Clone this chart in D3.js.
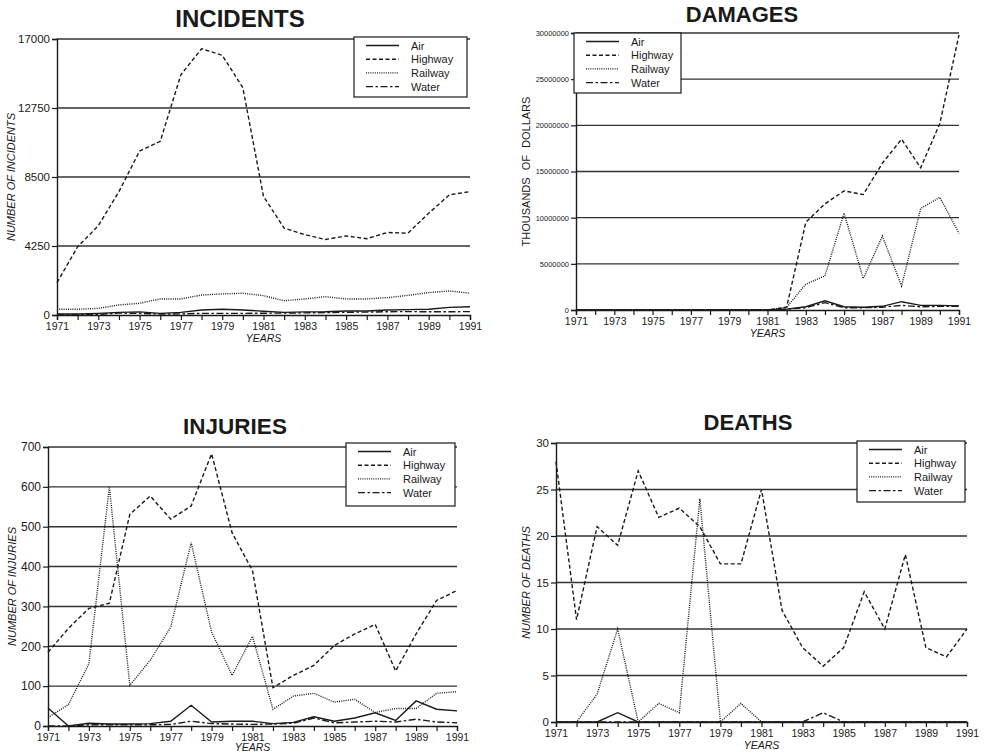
<!DOCTYPE html>
<html>
<head>
<meta charset="utf-8">
<script src="https://cdn.jsdelivr.net/npm/d3@7"></script>
<style>
  body { margin: 0; background: #fff; }
  svg { font-family: "Liberation Sans", Arial, Helvetica, sans-serif; }
</style>
</head>
<body>
<svg id="chart" width="985" height="753"></svg>
<script>
// ---- data ----
const years = [1971, 1972, 1973, 1974, 1975, 1976, 1977, 1978, 1979, 1980, 1981,
               1982, 1983, 1984, 1985, 1986, 1987, 1988, 1989, 1990, 1991];
const seriesNames = ["Air", "Highway", "Railway", "Water"];

const incidentTicks = [0, 4250, 8500, 12750, 17000];
const incidentsAir = [60, 60, 100, 160, 190, 100, 160, 310, 350, 310, 230, 160, 190, 200, 250, 250, 310, 330, 350, 470, 510];
const incidentsHighway = [2000, 4200, 5500, 7600, 10100, 10700, 14800, 16400, 16000, 14000, 7300, 5350, 4950, 4650, 4870, 4700, 5080, 5040, 6270, 7400, 7600];
const incidentsRailway = [350, 350, 410, 620, 720, 990, 990, 1230, 1300, 1340, 1190, 880, 990, 1130, 990, 990, 1070, 1210, 1380, 1480, 1340];
const incidentsWater = [10, 20, 40, 120, 100, 60, 70, 100, 100, 100, 110, 120, 130, 150, 170, 180, 200, 210, 200, 200, 210];

const damageTicks = [0, 5000000, 10000000, 15000000, 20000000, 25000000, 30000000];
const damagesAir = [0, 0, 0, 0, 0, 0, 0, 0, 0, 0, 0, 100000, 350000, 1000000, 350000, 300000, 400000, 900000, 500000, 500000, 450000];
const damagesHighway = [0, 0, 0, 0, 0, 0, 0, 0, 0, 0, 0, 300000, 9500000, 11500000, 12900000, 12500000, 15900000, 18500000, 15400000, 20200000, 29800000];
const damagesRailway = [0, 0, 0, 0, 0, 0, 0, 0, 0, 0, 0, 300000, 2800000, 3700000, 10500000, 3400000, 8000000, 2600000, 11000000, 12200000, 8300000];
const damagesWater = [0, 0, 0, 0, 0, 0, 0, 0, 0, 0, 0, 100000, 250000, 800000, 250000, 250000, 300000, 500000, 350000, 400000, 400000];

const injuryTicks = [0, 100, 200, 300, 400, 500, 600, 700];
const injuriesAir = [45, 0, 7, 5, 5, 6, 12, 52, 10, 12, 12, 6, 9, 23, 12, 20, 33, 14, 63, 42, 38];
const injuriesHighway = [185, 245, 295, 308, 531, 577, 519, 552, 683, 485, 390, 96, 127, 152, 202, 231, 255, 138, 231, 315, 340];
const injuriesRailway = [21, 54, 156, 600, 102, 165, 248, 460, 236, 127, 225, 42, 75, 82, 60, 67, 34, 44, 44, 82, 86];
const injuriesWater = [0, 0, 3, 3, 3, 3, 4, 12, 6, 5, 4, 5, 7, 20, 8, 10, 12, 10, 17, 10, 8];

const deathTicks = [0, 5, 10, 15, 20, 25, 30];
const deathsAir = [0, 0, 0, 1, 0, 0, 0, 0, 0, 0, 0, 0, 0, 0, 0, 0, 0, 0, 0, 0, 0];
const deathsHighway = [28, 11, 21, 19, 27, 22, 23, 21, 17, 17, 25, 12, 8, 6, 8, 14, 10, 18, 8, 7, 10];
const deathsRailway = [0, 0, 3, 10, 0, 2, 1, 24, 0, 2, 0, 0, 0, 0, 0, 0, 0, 0, 0, 0, 0];
const deathsWater = [0, 0, 0, 0, 0, 0, 0, 0, 0, 0, 0, 0, 0, 1, 0, 0, 0, 0, 0, 0, 0];

// line styles of the four modes
const dashes = { Air: null, Highway: "4,2.5", Railway: "1,1.2", Water: "7,2.5,2.5,2.5" };
const ink = "#1a1a1a";

const svg = d3.select("#chart");

function drawPanel(p) {
  const g = svg.append("g");
  const x = d3.scaleLinear().domain([1971, 1991]).range([p.left, p.right]);
  const y = d3.scaleLinear().domain([0, d3.max(p.ticks)]).range([p.bottom, p.top]);

  // title
  g.append("text")
    .attr("x", p.titleX).attr("y", p.titleY)
    .attr("text-anchor", "middle")
    .style("font-size", p.titleSize + "px").style("font-weight", "bold")
    .attr("fill", ink)
    .text(p.title);

  // horizontal grid lines
  g.append("g").selectAll("line")
    .data(p.ticks.filter(t => t > 0))
    .enter().append("line")
    .attr("x1", p.left).attr("x2", p.right)
    .attr("y1", d => y(d)).attr("y2", d => y(d))
    .attr("stroke", "#333").attr("stroke-width", 1.4);

  // y axis
  const yAxis = g.append("g")
    .attr("transform", `translate(${p.left},0)`)
    .call(d3.axisLeft(y).tickValues(p.ticks).tickSize(5).tickPadding(2)
      .tickFormat(d => String(d)));
  yAxis.select(".domain").attr("stroke", ink).attr("stroke-width", 1.4);
  yAxis.selectAll(".tick line").attr("stroke", ink).attr("stroke-width", 1.2);
  yAxis.selectAll("text").attr("fill", ink).style("font-size", p.yTickSize + "px")
    .attr("font-family", null);

  // x axis
  const xAxis = g.append("g")
    .attr("transform", `translate(0,${p.bottom})`)
    .call(d3.axisBottom(x).tickValues(years).tickSize(5).tickPadding(3)
      .tickFormat(d => (d - 1971) % 2 === 0 ? String(d) : ""));
  xAxis.select(".domain").attr("stroke", ink).attr("stroke-width", 1.4);
  xAxis.selectAll(".tick line").attr("stroke", ink).attr("stroke-width", 1.2);
  xAxis.selectAll("text").attr("fill", ink).style("font-size", "10.5px")
    .attr("font-family", null);

  // axis titles
  g.append("text")
    .attr("x", (p.left + p.right) / 2).attr("y", Math.min(p.bottom + 27, 751))
    .attr("text-anchor", "middle")
    .style("font-size", "10.5px").style("font-style", "italic")
    .attr("fill", ink)
    .text("YEARS");

  g.append("text")
    .attr("transform", `translate(${p.yLabelX},${(p.top + p.bottom) / 2}) rotate(-90)`)
    .attr("text-anchor", "middle")
    .style("font-size", "11px")
    .style("font-style", p.yLabelItalic ? "italic" : "normal")
    .style("word-spacing", p.yLabelItalic ? "0px" : "4px")
    .attr("fill", ink)
    .text(p.yLabel);

  // series
  const line = d3.line().x((d, i) => x(years[i])).y(d => y(d));
  p.series.forEach((vals, k) => {
    g.append("path")
      .datum(vals)
      .attr("d", line)
      .attr("fill", "none")
      .attr("stroke", ink)
      .attr("stroke-width", 1.4)
      .attr("stroke-dasharray", dashes[seriesNames[k]]);
  });

  // legend
  const lg = g.append("g").attr("transform", `translate(${p.legend[0]},${p.legend[1]})`);
  lg.append("rect")
    .attr("width", p.legend[2]).attr("height", p.legend[3])
    .attr("fill", "#fff").attr("stroke", ink).attr("stroke-width", 1.2);
  seriesNames.forEach((name, i) => {
    const ry = 8.5 + i * 13.7;
    lg.append("line")
      .attr("x1", 12).attr("x2", 45).attr("y1", ry).attr("y2", ry)
      .attr("stroke", ink).attr("stroke-width", 1.4)
      .attr("stroke-dasharray", dashes[name]);
    lg.append("text")
      .attr("x", 57).attr("y", ry + 4)
      .style("font-size", "11px").attr("fill", ink)
      .text(name);
  });
}

drawPanel({
  title: "INCIDENTS", titleX: 240, titleY: 27, titleSize: 24,
  left: 57, right: 470, top: 39, bottom: 315,
  ticks: incidentTicks, yTickSize: 11.5,
  yLabel: "NUMBER OF INCIDENTS", yLabelX: 15, yLabelItalic: true,
  series: [incidentsAir, incidentsHighway, incidentsRailway, incidentsWater],
  legend: [354, 37, 113, 60]
});

drawPanel({
  title: "DAMAGES", titleX: 742, titleY: 22, titleSize: 22,
  left: 576, right: 959, top: 33, bottom: 310,
  ticks: damageTicks, yTickSize: 7.5,
  yLabel: "THOUSANDS OF DOLLARS", yLabelX: 530, yLabelItalic: false,
  series: [damagesAir, damagesHighway, damagesRailway, damagesWater],
  legend: [574, 33, 107, 60]
});

drawPanel({
  title: "INJURIES", titleX: 235, titleY: 434, titleSize: 22.5,
  left: 48, right: 457, top: 447, bottom: 726,
  ticks: injuryTicks, yTickSize: 12,
  yLabel: "NUMBER OF INJURIES", yLabelX: 16, yLabelItalic: true,
  series: [injuriesAir, injuriesHighway, injuriesRailway, injuriesWater],
  legend: [346, 443, 109, 63]
});

drawPanel({
  title: "DEATHS", titleX: 748, titleY: 430, titleSize: 22,
  left: 556, right: 967, top: 443, bottom: 722,
  ticks: deathTicks, yTickSize: 11.5,
  yLabel: "NUMBER OF DEATHS", yLabelX: 530, yLabelItalic: true,
  series: [deathsAir, deathsHighway, deathsRailway, deathsWater],
  legend: [857, 441, 108, 61]
});
</script>
</body>
</html>
